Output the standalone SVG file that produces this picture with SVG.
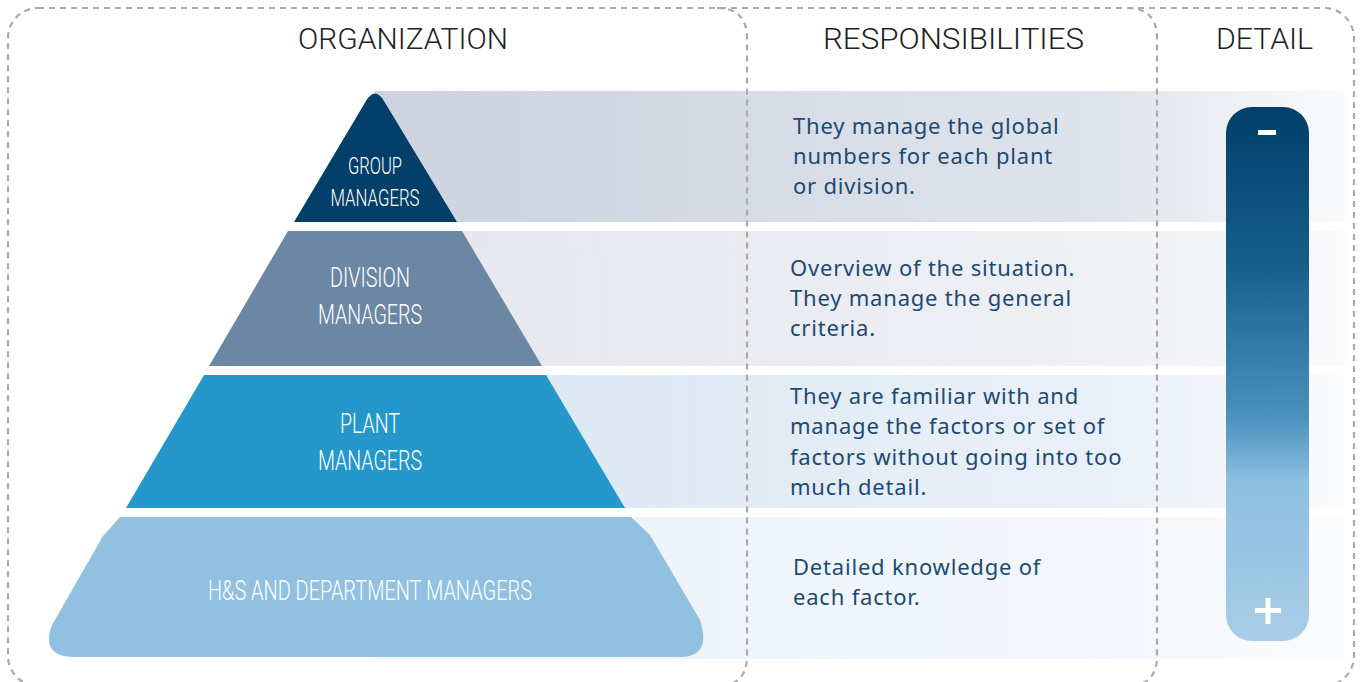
<svg xmlns="http://www.w3.org/2000/svg" width="1362" height="682" viewBox="0 0 1362 682">
<defs>
<linearGradient id="b1" x1="0" y1="0" x2="1" y2="0"><stop offset="0" stop-color="#ccd3df"/><stop offset="0.75" stop-color="#dfe3eb"/><stop offset="1" stop-color="#fafbfc"/></linearGradient>
<linearGradient id="b2" x1="0" y1="0" x2="1" y2="0"><stop offset="0" stop-color="#e5e7ed"/><stop offset="0.75" stop-color="#eef0f4"/><stop offset="1" stop-color="#fbfbfc"/></linearGradient>
<linearGradient id="b3" x1="0" y1="0" x2="1" y2="0"><stop offset="0" stop-color="#d9e6f2"/><stop offset="0.75" stop-color="#eaf0f7"/><stop offset="1" stop-color="#fafcfd"/></linearGradient>
<linearGradient id="b4" x1="0" y1="0" x2="1" y2="0"><stop offset="0" stop-color="#ebf2fa"/><stop offset="0.75" stop-color="#f3f7fb"/><stop offset="1" stop-color="#fbfcfe"/></linearGradient>
<linearGradient id="bar" x1="0" y1="0" x2="0" y2="1"><stop offset="0" stop-color="#003f69"/><stop offset="0.3" stop-color="#175f8c"/><stop offset="0.58" stop-color="#4a91be"/><stop offset="0.7" stop-color="#8cbfe0"/><stop offset="1" stop-color="#a9cde6"/></linearGradient>
</defs>
<style>
.frame{fill:none;stroke:#aaaaaa;stroke-width:2.2;stroke-dasharray:6 5}
.hdr{font-family:"Roboto","Liberation Sans",sans-serif;font-size:30px;fill:#222222;font-weight:300}
.lbl{font-family:"Roboto","Liberation Sans",sans-serif;fill:#ffffff;font-weight:300}
.resp{font-family:"Noto Sans","Open Sans",sans-serif;font-size:22px;letter-spacing:0.8px;fill:#1c4a73}
</style>
<g id="bands">
<rect x="375" y="91" width="970" height="131" fill="url(#b1)"/>
<rect x="375" y="231" width="970" height="135" fill="url(#b2)"/>
<rect x="375" y="375" width="970" height="133" fill="url(#b3)"/>
<rect x="375" y="517" width="970" height="142" fill="url(#b4)"/>
</g>
<g id="frames">
<rect class="frame" x="8" y="8" width="1346" height="678" rx="30"/>
<path class="frame" d="M717,8 Q747,8 747,38 V656 Q747,686 717,686"/>
<path class="frame" d="M1127,8 Q1157,8 1157,38 V656 Q1157,686 1127,686"/>
</g>
<g id="headers">
<text class="hdr" x="298" y="49" textLength="210" lengthAdjust="spacingAndGlyphs">ORGANIZATION</text>
<text class="hdr" x="823" y="49" textLength="261" lengthAdjust="spacingAndGlyphs">RESPONSIBILITIES</text>
<text class="hdr" x="1216" y="49" textLength="97" lengthAdjust="spacingAndGlyphs">DETAIL</text>
</g>
<g id="group-managers">
<path d="M294,222 L366,101 Q375,86 384,101 L457,222 Z" fill="#033f68"/>
<text class="lbl" font-size="24" x="375" y="174" text-anchor="middle" textLength="54" lengthAdjust="spacingAndGlyphs">GROUP</text>
<text class="lbl" font-size="24" x="375" y="206" text-anchor="middle" textLength="89" lengthAdjust="spacingAndGlyphs">MANAGERS</text>
<text class="resp" x="793" y="134">They manage the global</text>
<text class="resp" x="793" y="164">numbers for each plant</text>
<text class="resp" x="793" y="194">or division.</text>
</g>
<g id="division-managers">
<path d="M288,231 L462,231 L542,366 L209,366 Z" fill="#6b87a3"/>
<text class="lbl" font-size="27" x="370" y="287" text-anchor="middle" textLength="80" lengthAdjust="spacingAndGlyphs">DIVISION</text>
<text class="lbl" font-size="27" x="370" y="324" text-anchor="middle" textLength="104" lengthAdjust="spacingAndGlyphs">MANAGERS</text>
<text class="resp" x="790" y="276">Overview of the situation.</text>
<text class="resp" x="790" y="306">They manage the general</text>
<text class="resp" x="790" y="336">criteria.</text>
</g>
<g id="plant-managers">
<path d="M204,375 L546,375 L625,508 L126,508 Z" fill="#2597cb"/>
<text class="lbl" font-size="27" x="370" y="433" text-anchor="middle" textLength="60" lengthAdjust="spacingAndGlyphs">PLANT</text>
<text class="lbl" font-size="27" x="370" y="470" text-anchor="middle" textLength="104" lengthAdjust="spacingAndGlyphs">MANAGERS</text>
<text class="resp" x="790" y="404">They are familiar with and</text>
<text class="resp" x="790" y="434">manage the factors or set of</text>
<text class="resp" x="790" y="465">factors without going into too</text>
<text class="resp" x="790" y="495">much detail.</text>
</g>
<g id="hs-managers">
<path d="M120,517 L631,517 L650,535 L700,620 Q712,657 680,657 L75,657 Q40,657 52,625 L103,536 Z" fill="#92c0e0"/>
<text class="lbl" font-size="27" x="370" y="600" text-anchor="middle" textLength="324" lengthAdjust="spacingAndGlyphs">H&amp;S AND DEPARTMENT MANAGERS</text>
<text class="resp" x="793" y="575">Detailed knowledge of</text>
<text class="resp" x="793" y="605">each factor.</text>
</g>
<g id="detail-bar">
<rect x="1226" y="107" width="83" height="534" rx="26" fill="url(#bar)"/>
<rect x="1258" y="130" width="18" height="5" fill="#ffffff"/>
<rect x="1255" y="608" width="26" height="5" fill="#ffffff"/>
<rect x="1265.5" y="598" width="5" height="26" fill="#ffffff"/>
</g>
</svg>
